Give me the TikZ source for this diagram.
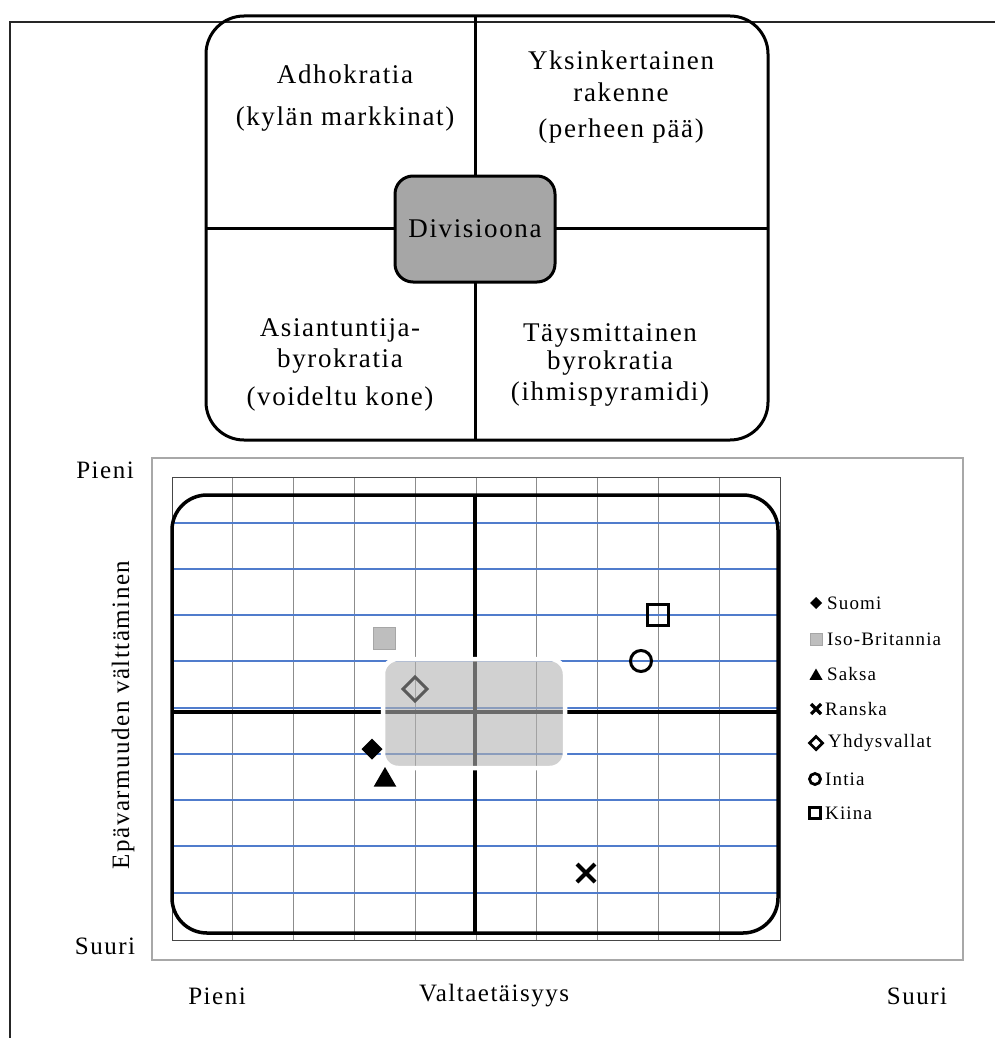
\documentclass[tikz,border=0pt]{standalone}
\usepackage{fontspec}
\setmainfont{Liberation Serif}
\newfontfamily\spacedserif[LetterSpace=6]{Liberation Serif}
\usetikzlibrary{shapes.geometric,shapes.misc}
\definecolor{gridblue}{RGB}{80,124,204}
\definecolor{gridgray}{RGB}{140,140,140}
\definecolor{plotframe}{RGB}{70,70,70}
\definecolor{chartframe}{RGB}{168,168,168}
\definecolor{divgray}{RGB}{166,166,166}
\definecolor{ovgray}{RGB}{178,178,178}
\definecolor{usgray}{RGB}{90,90,90}
\definecolor{gbgray}{RGB}{190,190,190}
\begin{document}
\begin{tikzpicture}[x=1pt,y=-1pt,
  heavy/.style={line width=3pt, line join=round},
  celltext/.style={font=\spacedserif\fontsize{27}{30}\selectfont, inner sep=0pt, anchor=base},
  axistext/.style={font=\spacedserif\fontsize{25}{30}\selectfont, inner sep=0pt},
  legtext/.style={font=\spacedserif\fontsize{19}{22}\selectfont, inner sep=0pt, anchor=west},
  mk/.style={inner sep=0pt, outer sep=0pt}]
\useasboundingbox (0,0) rectangle (995,1038);

% page frame
\draw[line width=2pt, black!85] (10,1038) -- (10,22) -- (995,22);

% ---- structure quadrant ----
\draw[heavy] (475,16) -- (475,440);
\draw[heavy] (206,228) -- (768,228);
\draw[heavy, rounded corners=38] (206,16) rectangle (768,440);
\node[heavy, draw, fill=divgray, rounded corners=18, minimum width=160pt,
      minimum height=106pt, inner sep=0pt, font=\spacedserif\fontsize{27}{30}\selectfont]
      (div) at (475,229) {Divisioona};

\node[celltext] (ad1) at (345,84) {Adhokratia};
\node[celltext] (ad2) at (345,125) {(kylän markkinat)};
\node[celltext] (yk1) at (621,70) {Yksinkertainen};
\node[celltext] (yk2) at (621,102) {rakenne};
\node[celltext] (yk3) at (621,138) {(perheen pää)};
\node[celltext] (as1) at (340,336) {Asiantuntija-};
\node[celltext] (as2) at (340,367) {byrokratia};
\node[celltext] (as3) at (340,405) {(voideltu kone)};
\node[celltext] (ta1) at (610,341) {Täysmittainen};
\node[celltext] (ta2) at (610,369) {byrokratia};
\node[celltext] (ta3) at (610,400) {(ihmispyramidi)};

% ---- chart ----
\draw[chartframe, line width=1.3pt] (152,458) rectangle (963,960);
\foreach \i in {1,...,9}
  \draw[gridgray, line width=1pt] ({172+60.8*\i},477) -- ({172+60.8*\i},940);
\foreach \y in {523,569,615,661,708,754,800,846,893}
  \draw[gridblue, line width=1.6pt] (172,\y) -- (780,\y);
\draw[plotframe, line width=1pt] (172,477) rectangle (780,940);

\draw[line width=3.5pt, rounded corners=35] (172,495) rectangle (778,933);
\draw[line width=3.5pt] (475,495) -- (475,933);
\draw[line width=3.5pt] (172,712) -- (778,712);

% shaded core region
\draw[draw=white, line width=4.5pt, fill=ovgray, fill opacity=0.6,
      rounded corners=15] (383,659) rectangle (565,768);

% data points
\node[mk, rectangle, fill=gbgray, draw=gray!70, line width=0.8pt,
      minimum size=22pt] (p-gb) at (384,638) {};
\node[mk, diamond, draw=usgray, line width=3pt, minimum size=24pt] (p-us) at (415,689) {};
\node[mk, diamond, fill=black, minimum size=21pt] (p-fi) at (372,749) {};
\node[mk, regular polygon, regular polygon sides=3, fill=black,
      minimum size=26pt] (p-de) at (385,780) {};
\node[mk, cross out, draw, line width=4pt, minimum size=18pt] (p-fr) at (586,873) {};
\node[mk, circle, draw, line width=3pt, minimum size=21pt] (p-in) at (641,661) {};
\node[mk, rectangle, draw, line width=3pt, minimum size=21pt] (p-cn) at (658,615) {};

% legend
\node[mk, diamond, fill=black, minimum size=12pt] (l-fi) at (816,603) {};
\node[mk, rectangle, fill=gbgray, draw=gray!70, line width=0.6pt, minimum size=12pt] (l-gb) at (816,639) {};
\node[mk, regular polygon, regular polygon sides=3, fill=black, minimum size=15pt] (l-de) at (816,676) {};
\node[mk, cross out, draw, line width=3.2pt, minimum size=10pt] (l-fr) at (816,709) {};
\node[mk, diamond, draw, line width=2.8pt, minimum size=13pt] (l-us) at (816,743) {};
\node[mk, circle, draw, line width=2.8pt, minimum size=11pt] (l-in) at (815,779) {};
\node[mk, rectangle, draw, line width=2.8pt, minimum size=11pt] (l-cn) at (815,813) {};
\node[legtext] (t-fi) at (827,603) {Suomi};
\node[legtext] (t-gb) at (827,639) {Iso-Britannia};
\node[legtext] (t-de) at (827,674) {Saksa};
\node[legtext] (t-fr) at (825,709) {Ranska};
\node[legtext] (t-us) at (828,743) {Yhdysvallat};
\node[legtext] (t-in) at (825,779) {Intia};
\node[legtext] (t-cn) at (825,813) {Kiina};

% axis labels
\node[axistext] (ylo) at (105,470) {Pieni};
\node[axistext] (yhi) at (105,946) {Suuri};
\node[axistext, rotate=90] (ytitle) at (123,715) {Epävarmuuden välttäminen};
\node[axistext] (xlo) at (217,996) {Pieni};
\node[axistext] (xtitle) at (494,996) {Valtaetäisyys};
\node[axistext] (xhi) at (917,996) {Suuri};
\end{tikzpicture}
\end{document}
